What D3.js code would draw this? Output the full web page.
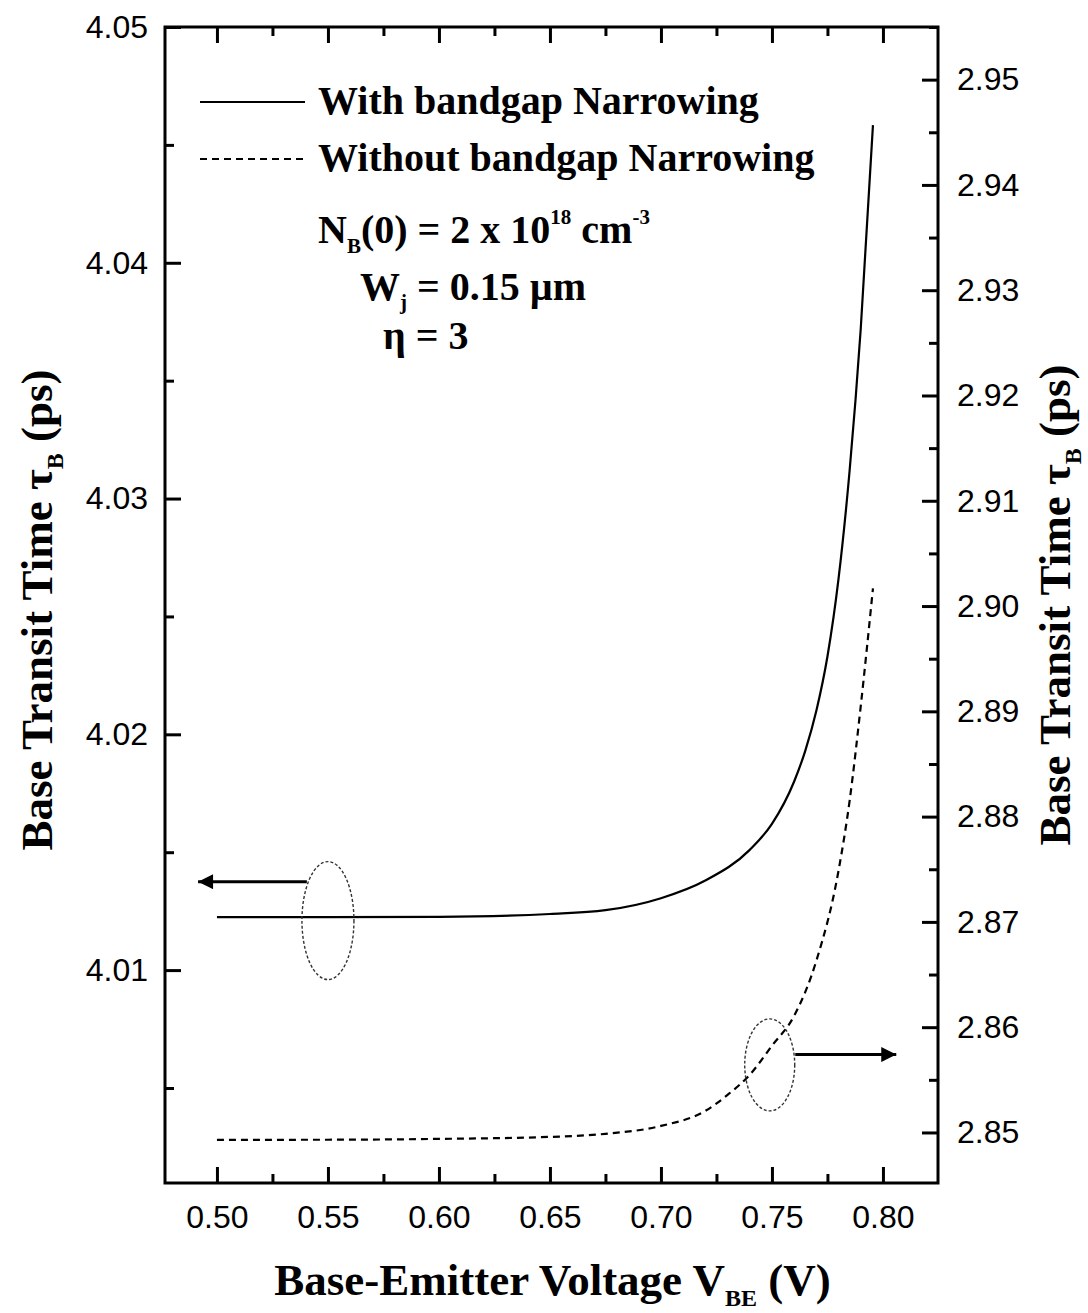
<!DOCTYPE html>
<html>
<head>
<meta charset="utf-8">
<script src="https://cdn.jsdelivr.net/npm/d3@7/dist/d3.min.js"></script>
<style>
  body { margin: 0; background: #fff; }
  .tick text { font-family: "Liberation Sans", Arial, sans-serif; font-size: 32px; fill: #000; }
  .title { font-family: "Liberation Serif", "Times New Roman", serif; font-weight: bold; fill: #000; }
</style>
</head>
<body>
<div id="chart"></div>
<script>
// values
const voltWith = [0.50, 0.55, 0.60, 0.65, 0.675, 0.70, 0.72, 0.74, 0.75, 0.76, 0.765, 0.77, 0.775, 0.78, 0.785, 0.79, 0.7955];
const tauWith  = [4.01225, 4.01225, 4.01226, 4.01238, 4.01254, 4.01305, 4.01380, 4.01510, 4.01620, 4.01800, 4.01930, 4.02100, 4.02330, 4.02660, 4.03120, 4.03720, 4.04584];

const voltWithout = [0.50, 0.55, 0.60, 0.65, 0.675, 0.70, 0.72, 0.73, 0.74, 0.75, 0.76, 0.77, 0.78, 0.785, 0.79, 0.7955];
const tauWithout  = [2.84930, 2.84931, 2.84939, 2.84958, 2.84987, 2.85062, 2.85205, 2.85357, 2.85548, 2.85824, 2.86108, 2.86631, 2.87487, 2.88152, 2.89050, 2.90167];

const xTicks = [0.50, 0.55, 0.60, 0.65, 0.70, 0.75, 0.80];
const leftTicks = [4.01, 4.02, 4.03, 4.04, 4.05];
const rightTicks = [2.85, 2.86, 2.87, 2.88, 2.89, 2.90, 2.91, 2.92, 2.93, 2.94, 2.95];

const legendLabels = ["With bandgap Narrowing", "Without bandgap Narrowing"];

var margin = {top: 27, right: 150, bottom: 130, left: 165},
    width = 1088 - margin.left - margin.right,
    height = 1313 - margin.top - margin.bottom;

var svg = d3.select("#chart")
    .append("svg")
    .attr("width", 1088)
    .attr("height", 1313)
    .append("g")
    .attr("transform", `translate(${margin.left}, ${margin.top})`);

var x = d3.scaleLinear().domain([0.4766, 0.8248]).range([0, width]);
var yLeft = d3.scaleLinear().domain([4.00097, 4.05]).range([height, 0]);
var yRight = d3.scaleLinear().domain([2.8452, 2.9550]).range([height, 0]);

function minors(ticks) {
    let step = ticks[1] - ticks[0], out = [];
    ticks.forEach(t => out.push(+(t - step / 2).toFixed(4)));
    out.push(+(ticks[ticks.length - 1] + step / 2).toFixed(4));
    return out;
}

// inward ticks; minors first, majors over them
function drawAxis(axisFn, scale, ticks, transform, major, labels, pad) {
    var g = svg.append("g").attr("transform", transform);
    let d = scale.domain();
    let list = major ? ticks : minors(ticks).filter(t => t >= d[0] && t <= d[1]);
    g.call(axisFn(scale)
        .tickValues(list)
        .tickSize(major ? -16 : -9)
        .tickPadding(pad)
        .tickFormat(labels ? d3.format(".2f") : ""));
    g.select(".domain").remove();
    g.selectAll("line").attr("stroke", "#000").attr("stroke-width", 3);
    return g;
}

[false, true].forEach(major => {
    drawAxis(d3.axisBottom, x, xTicks, `translate(0, ${height})`, major, major, 22);
    drawAxis(d3.axisTop, x, xTicks, `translate(0, 0)`, major, false, 0);
    drawAxis(d3.axisLeft, yLeft, leftTicks, `translate(0, 0)`, major, major, 17);
    drawAxis(d3.axisRight, yRight, rightTicks, `translate(${width}, 0)`, major, major, 19);
});

// frame
svg.append("rect")
    .attr("width", width).attr("height", height)
    .attr("fill", "none").attr("stroke", "#000").attr("stroke-width", 3);

// curves
var lineWith = d3.line()
    .x((d, i) => x(voltWith[i]))
    .y(d => yLeft(d))
    .curve(d3.curveMonotoneX);
var lineWithout = d3.line()
    .x((d, i) => x(voltWithout[i]))
    .y(d => yRight(d))
    .curve(d3.curveMonotoneX);

svg.append("path").datum(tauWith)
    .attr("d", lineWith).attr("fill", "none")
    .attr("stroke", "#000").attr("stroke-width", 2.2);
svg.append("path").datum(tauWithout)
    .attr("d", lineWithout).attr("fill", "none")
    .attr("stroke", "#000").attr("stroke-width", 2.2)
    .attr("stroke-dasharray", "7,5");

// ellipses + arrows pointing to the axis each curve uses
svg.append("defs").append("marker")
    .attr("id", "head").attr("viewBox", "0 0 10 10")
    .attr("refX", 10).attr("refY", 5)
    .attr("markerWidth", 9).attr("markerHeight", 5)
    .attr("markerUnits", "strokeWidth")
    .attr("orient", "auto")
    .append("path").attr("d", "M0,0 L10,5 L0,10 Z").attr("fill", "#000");

var ellipses = [
    {cx: 0.55, cy: yLeft(4.0121), rx: 26, ry: 59, ax0: 0.5405, ax1: 0.4915, ay: yLeft(4.01375)},
    {cx: 0.749, cy: yRight(2.85642), rx: 25, ry: 46, ax0: 0.7605, ax1: 0.806, ay: yRight(2.8574)}
];
ellipses.forEach(e => {
    svg.append("ellipse")
        .attr("cx", x(e.cx)).attr("cy", e.cy)
        .attr("rx", e.rx).attr("ry", e.ry)
        .attr("fill", "none").attr("stroke", "#333")
        .attr("stroke-width", 1.4).attr("stroke-dasharray", "3,2");
    svg.append("line")
        .attr("x1", x(e.ax0)).attr("x2", x(e.ax1))
        .attr("y1", e.ay).attr("y2", e.ay)
        .attr("stroke", "#000").attr("stroke-width", 3)
        .attr("marker-end", "url(#head)");
});

// legend
var legend = svg.append("g").attr("transform", `translate(${200 - margin.left}, ${102 - margin.top})`);
legendLabels.forEach((l, i) => {
    legend.append("line")
        .attr("x1", 0).attr("x2", 105).attr("y1", i * 57).attr("y2", i * 57)
        .attr("stroke", "#000").attr("stroke-width", 2)
        .attr("stroke-dasharray", i ? "7,5" : null);
    legend.append("text").attr("class", "title")
        .attr("x", 118).attr("y", i * 57 + 12)
        .attr("font-size", 40)
        .text(l);
});

// parameters block
function richText(px, py, size, parts) {
    var t = svg.append("text").attr("class", "title")
        .attr("x", px - margin.left).attr("y", py - margin.top)
        .attr("font-size", size);
    parts.forEach(p => {
        t.append("tspan")
            .attr("dy", p.dy || 0)
            .attr("font-size", p.size || size)
            .text(p.t);
    });
    return t;
}
richText(318, 243, 40, [
    {t: "N"}, {t: "B", size: 21, dy: 10}, {t: "(0) = 2 x 10", dy: -10},
    {t: "18", size: 21, dy: -19}, {t: " cm", dy: 19}, {t: "-3", size: 21, dy: -19}
]);
richText(360, 300, 40, [
    {t: "W"}, {t: "j", size: 21, dy: 9}, {t: " = 0.15 \u00b5m", dy: -9}
]);
richText(383, 349, 40, [{t: "\u03b7 = 3"}]);

// axis titles
var xt = svg.append("text").attr("class", "title")
    .attr("x", width / 2 + 1).attr("y", 1295 - margin.top)
    .attr("text-anchor", "middle").attr("font-size", 45);
xt.append("tspan").text("Base-Emitter Voltage V");
xt.append("tspan").attr("font-size", 24).attr("dy", 11).text("BE");
xt.append("tspan").attr("dy", -11).text(" (V)");

function yTitle(cx, cy) {
    var t = svg.append("text").attr("class", "title")
        .attr("transform", `translate(${cx - margin.left}, ${cy - margin.top}) rotate(-90)`)
        .attr("text-anchor", "middle").attr("font-size", 45);
    t.append("tspan").text("Base Transit Time \u03c4");
    t.append("tspan").attr("font-size", 24).attr("dy", 11).text("B");
    t.append("tspan").attr("dy", -11).text(" (ps)");
}
yTitle(52, 610);
yTitle(1070, 605);
</script>
</body>
</html>
